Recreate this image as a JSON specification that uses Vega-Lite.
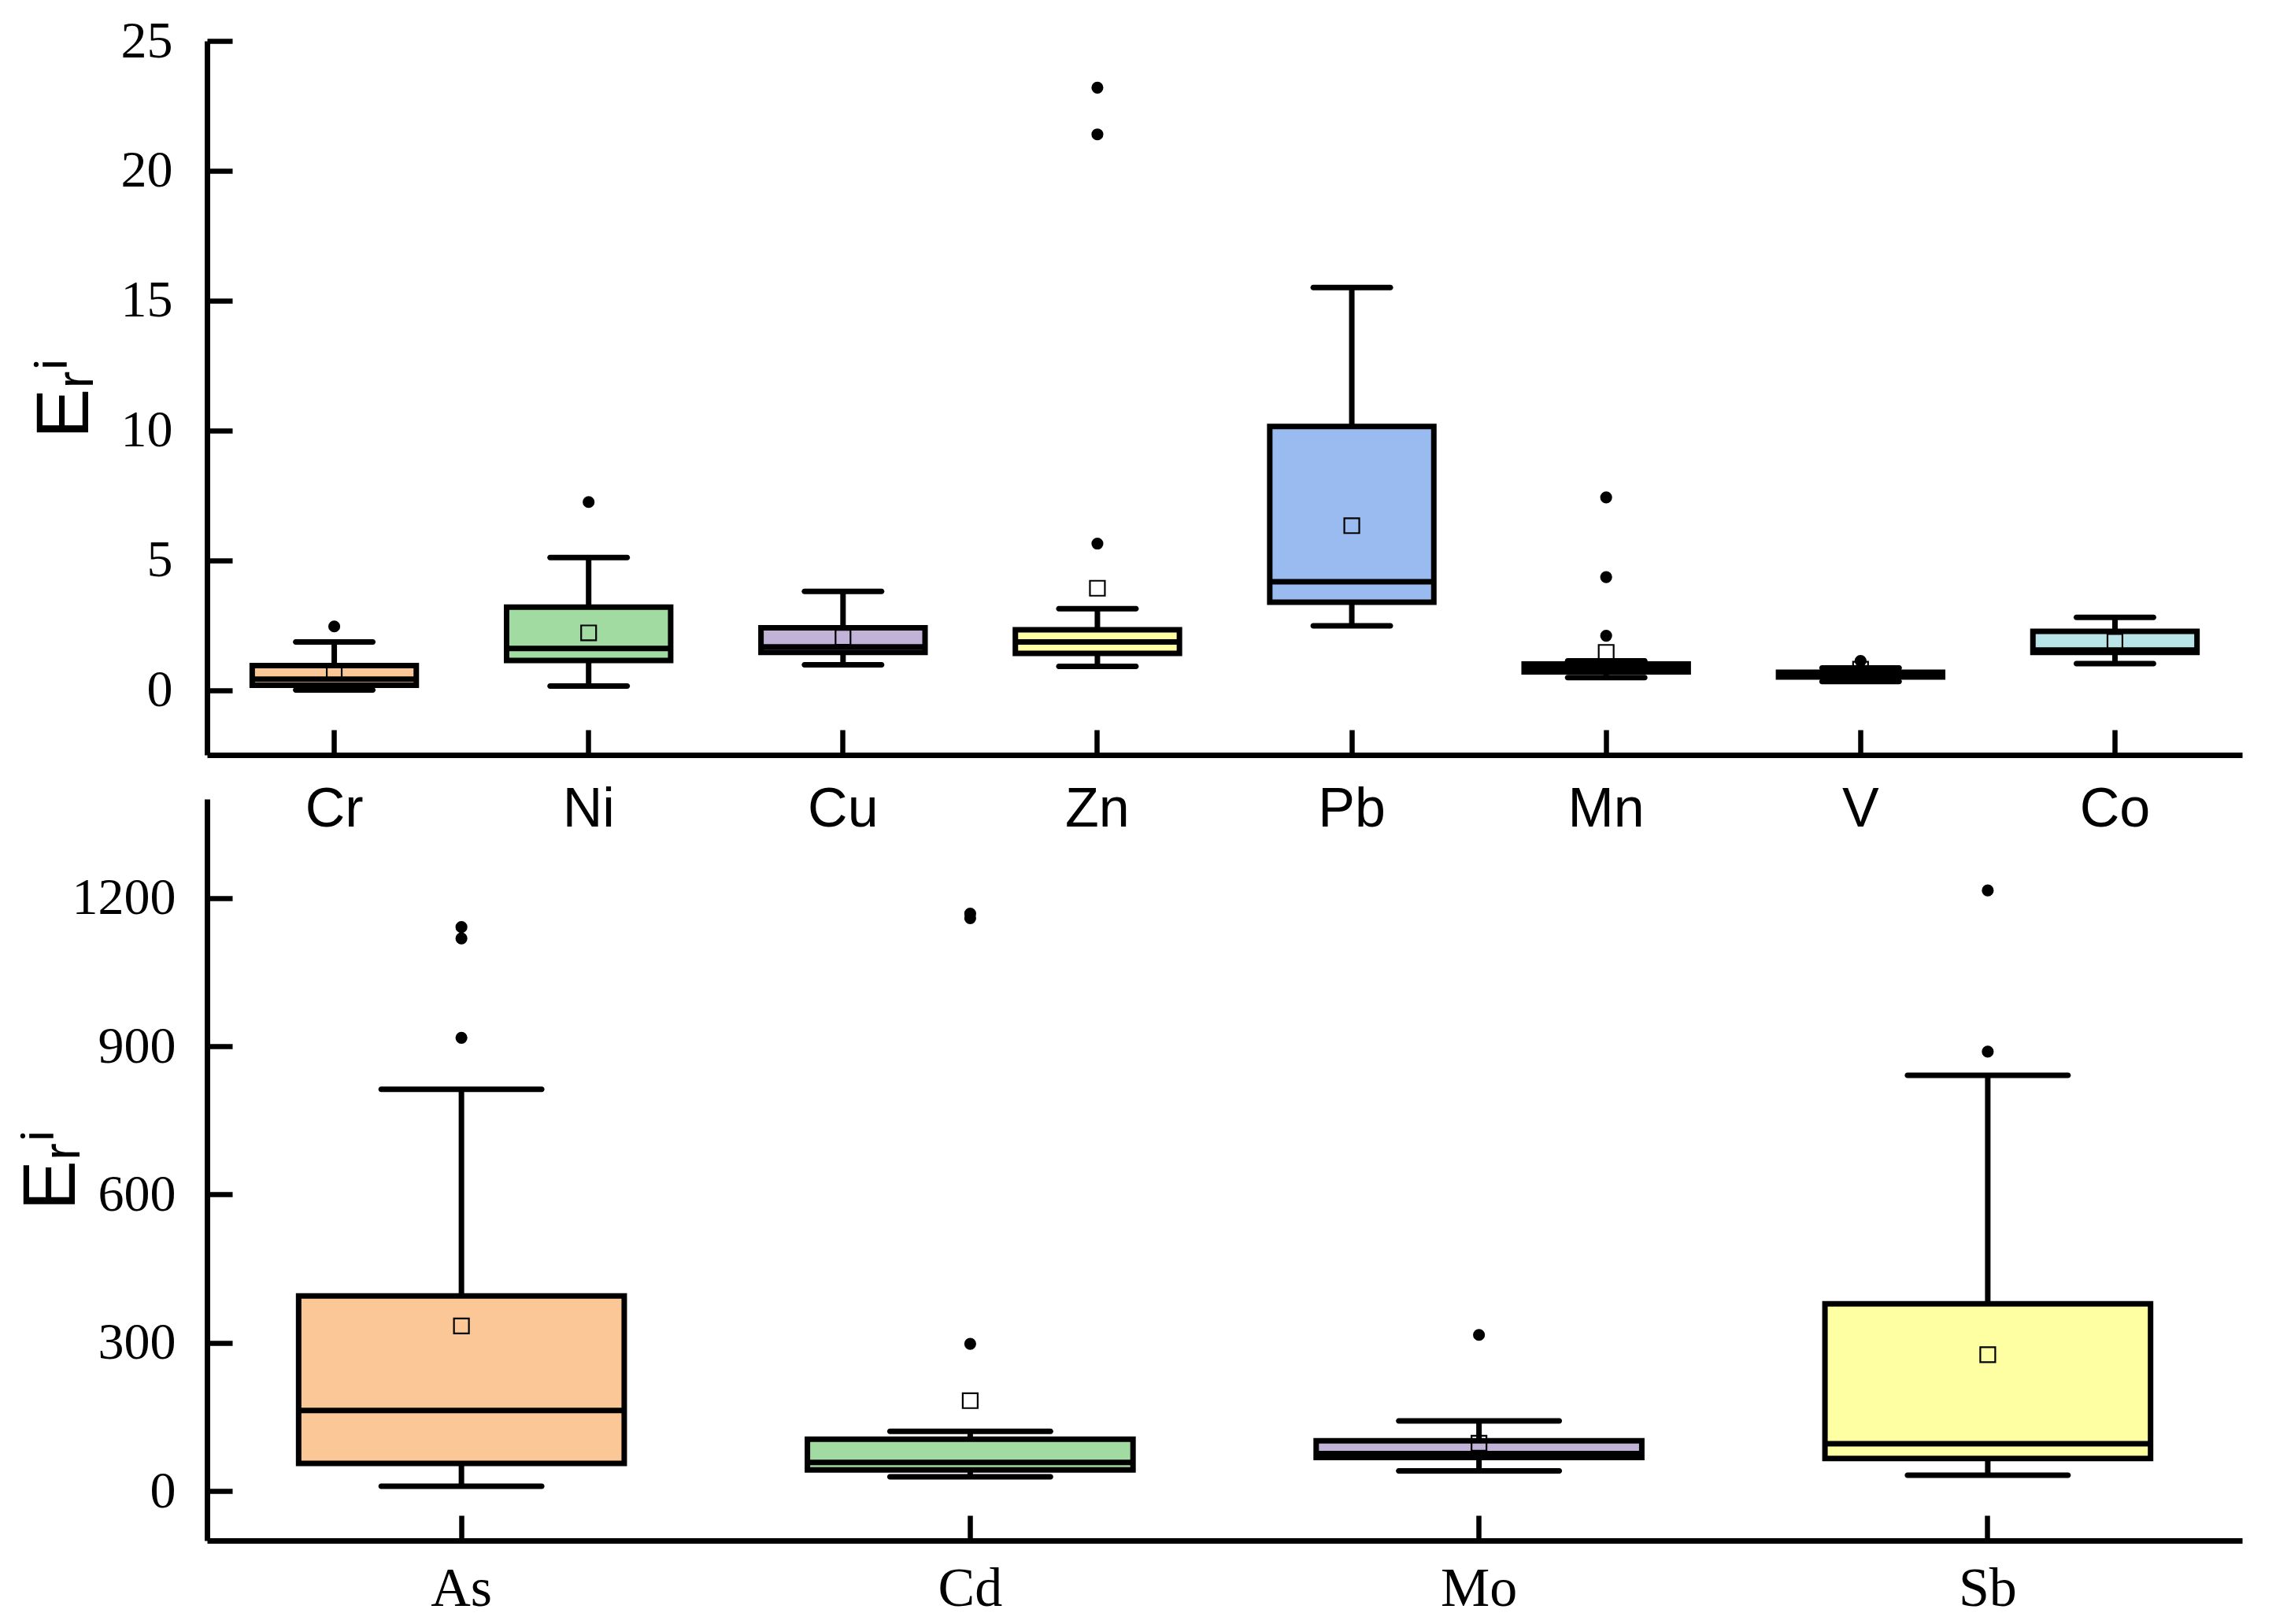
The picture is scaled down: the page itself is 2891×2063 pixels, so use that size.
{
  "$schema": "https://vega.github.io/schema/vega-lite/v6.json",
  "background": "white",
  "padding": {"left": 18, "top": 19, "right": 10, "bottom": 10},
  "datasets": {
    "top_box": [
      {"el": "Cr", "lo": 0.0, "q1": 0.18, "med": 0.42, "q3": 0.94, "hi": 1.85, "mean": 0.7},
      {"el": "Ni", "lo": 0.15, "q1": 1.14, "med": 1.6, "q3": 3.19, "hi": 5.1, "mean": 2.2},
      {"el": "Cu", "lo": 0.97, "q1": 1.45, "med": 1.66, "q3": 2.4, "hi": 3.8, "mean": 2.03},
      {"el": "Zn", "lo": 0.91, "q1": 1.41, "med": 1.85, "q3": 2.32, "hi": 3.13, "mean": 3.92},
      {"el": "Pb", "lo": 2.47, "q1": 3.38, "med": 4.17, "q3": 10.15, "hi": 15.5, "mean": 6.33},
      {"el": "Mn", "lo": 0.48, "q1": 0.7, "med": 0.85, "q3": 1.0, "hi": 1.12, "mean": 1.45},
      {"el": "V", "lo": 0.33, "q1": 0.5, "med": 0.6, "q3": 0.68, "hi": 0.85, "mean": 0.8},
      {"el": "Co", "lo": 1.02, "q1": 1.45, "med": 1.54, "q3": 2.26, "hi": 2.8, "mean": 1.87}
    ],
    "top_out": [
      {"el": "Cr", "v": 2.45},
      {"el": "Ni", "v": 7.24},
      {"el": "Zn", "v": 23.2},
      {"el": "Zn", "v": 21.4},
      {"el": "Zn", "v": 5.64},
      {"el": "Mn", "v": 7.42},
      {"el": "Mn", "v": 4.35},
      {"el": "Mn", "v": 2.09},
      {"el": "V", "v": 1.12}
    ],
    "bot_box": [
      {"el": "As", "lo": 10, "q1": 56, "med": 163, "q3": 395, "hi": 813, "mean": 334},
      {"el": "Cd", "lo": 29, "q1": 43, "med": 58, "q3": 105, "hi": 121, "mean": 183},
      {"el": "Mo", "lo": 41, "q1": 68, "med": 76, "q3": 102, "hi": 142, "mean": 97},
      {"el": "Sb", "lo": 32, "q1": 66, "med": 96, "q3": 379, "hi": 841, "mean": 276}
    ],
    "bot_out": [
      {"el": "As", "v": 1141},
      {"el": "As", "v": 1118},
      {"el": "As", "v": 917},
      {"el": "Cd", "v": 1168},
      {"el": "Cd", "v": 1159},
      {"el": "Cd", "v": 298},
      {"el": "Mo", "v": 316},
      {"el": "Sb", "v": 1215},
      {"el": "Sb", "v": 889}
    ]
  },
  "vconcat": [
    {
      "width": 2585,
      "height": 907,
      "data": {"name": "top_box"},
      "encoding": {
        "x": {
          "field": "el", "type": "nominal",
          "sort": ["Cr", "Ni", "Cu", "Zn", "Pb", "Mn", "V", "Co"],
          "scale": {"paddingInner": 0, "paddingOuter": 0},
          "axis": {"title": null, "labelFont": "Liberation Sans", "labelFontSize": 70, "labelPadding": 67, "labelAngle": 0}
        }
      },
      "layer": [
        {
          "mark": {"type": "rule", "color": "black", "strokeWidth": 7},
          "encoding": {
            "y": {
              "field": "lo", "type": "quantitative",
              "scale": {"domain": [-2.5, 25], "nice": false, "zero": false},
              "axis": {"title": "Eᵣⁱ", "values": [0, 5, 10, 15, 20, 25], "format": "d", "labelFont": "Liberation Serif", "labelFontSize": 66, "labelPadding": 76, "titlePadding": 22}
            },
            "y2": {"field": "hi"}
          }
        },
        {
          "mark": {"type": "bar", "stroke": "black", "strokeWidth": 7, "width": {"band": 0.645}, "opacity": 1},
          "encoding": {
            "y": {"field": "q1", "type": "quantitative"},
            "y2": {"field": "q3"},
            "fill": {
              "field": "el", "type": "nominal", "legend": null,
              "scale": {"domain": ["Cr", "Ni", "Cu", "Zn", "Pb", "Mn", "V", "Co"], "range": ["#FCC797", "#A1DBA1", "#C1B3D7", "#FEFEA3", "#9ABBEF", "#F7B6D2", "#D9D9D9", "#B9E5E8"]}
            }
          }
        },
        {
          "mark": {"type": "tick", "color": "black", "thickness": 7, "size": 208, "opacity": 1},
          "encoding": {"y": {"field": "med", "type": "quantitative"}}
        },
        {
          "mark": {"type": "tick", "color": "black", "thickness": 7, "size": 105, "opacity": 1, "cornerRadius": 3.5},
          "encoding": {"y": {"field": "hi", "type": "quantitative"}}
        },
        {
          "mark": {"type": "tick", "color": "black", "thickness": 7, "size": 105, "opacity": 1, "cornerRadius": 3.5},
          "encoding": {"y": {"field": "lo", "type": "quantitative"}}
        },
        {
          "mark": {"type": "point", "shape": "square", "filled": false, "stroke": "black", "strokeWidth": 2.2, "size": 360, "opacity": 1},
          "encoding": {"y": {"field": "mean", "type": "quantitative"}}
        },
        {
          "data": {"name": "top_out"},
          "mark": {"type": "circle", "color": "black", "size": 230, "opacity": 1},
          "encoding": {"y": {"field": "v", "type": "quantitative"}}
        }
      ]
    },
    {
      "width": 2585,
      "height": 942,
      "data": {"name": "bot_box"},
      "encoding": {
        "x": {
          "field": "el", "type": "nominal",
          "sort": ["As", "Cd", "Mo", "Sb"],
          "scale": {"paddingInner": 0, "paddingOuter": 0},
          "axis": {"title": null, "labelFont": "Liberation Serif", "labelFontSize": 70, "labelPadding": 59, "labelAngle": 0}
        }
      },
      "layer": [
        {
          "mark": {"type": "rule", "color": "black", "strokeWidth": 7},
          "encoding": {
            "y": {
              "field": "lo", "type": "quantitative",
              "scale": {"domain": [-100, 1400], "nice": false, "zero": false},
              "axis": {"title": "Eᵣⁱ", "values": [0, 300, 600, 900, 1200], "format": "d", "labelFont": "Liberation Serif", "labelFontSize": 66, "labelPadding": 72, "titlePadding": -23}
            },
            "y2": {"field": "hi"}
          }
        },
        {
          "mark": {"type": "bar", "stroke": "black", "strokeWidth": 7, "width": {"band": 0.64}, "opacity": 1},
          "encoding": {
            "y": {"field": "q1", "type": "quantitative"},
            "y2": {"field": "q3"},
            "fill": {
              "field": "el", "type": "nominal", "legend": null,
              "scale": {"domain": ["As", "Cd", "Mo", "Sb"], "range": ["#FCC797", "#A1DBA1", "#C1B3D7", "#FEFEA3"]}
            }
          }
        },
        {
          "mark": {"type": "tick", "color": "black", "thickness": 7, "size": 414, "opacity": 1},
          "encoding": {"y": {"field": "med", "type": "quantitative"}}
        },
        {
          "mark": {"type": "tick", "color": "black", "thickness": 7, "size": 211, "opacity": 1, "cornerRadius": 3.5},
          "encoding": {"y": {"field": "hi", "type": "quantitative"}}
        },
        {
          "mark": {"type": "tick", "color": "black", "thickness": 7, "size": 211, "opacity": 1, "cornerRadius": 3.5},
          "encoding": {"y": {"field": "lo", "type": "quantitative"}}
        },
        {
          "mark": {"type": "point", "shape": "square", "filled": false, "stroke": "black", "strokeWidth": 2.2, "size": 360, "opacity": 1},
          "encoding": {"y": {"field": "mean", "type": "quantitative"}}
        },
        {
          "data": {"name": "bot_out"},
          "mark": {"type": "circle", "color": "black", "size": 230, "opacity": 1},
          "encoding": {"y": {"field": "v", "type": "quantitative"}}
        }
      ]
    }
  ],
  "spacing": 56,
  "bounds": "flush",
  "resolve": {"scale": {"fill": "independent", "x": "independent", "y": "independent"}},
  "config": {
    "view": {"stroke": null},
    "axis": {
      "grid": false,
      "domainColor": "black",
      "domainWidth": 7,
      "tickColor": "black",
      "tickWidth": 6.5,
      "tickSize": -32,
      "labelColor": "black",
      "titleColor": "black",
      "titleFont": "Liberation Sans",
      "titleFontSize": 95,
      "titleFontWeight": "normal"
    }
  }
}
